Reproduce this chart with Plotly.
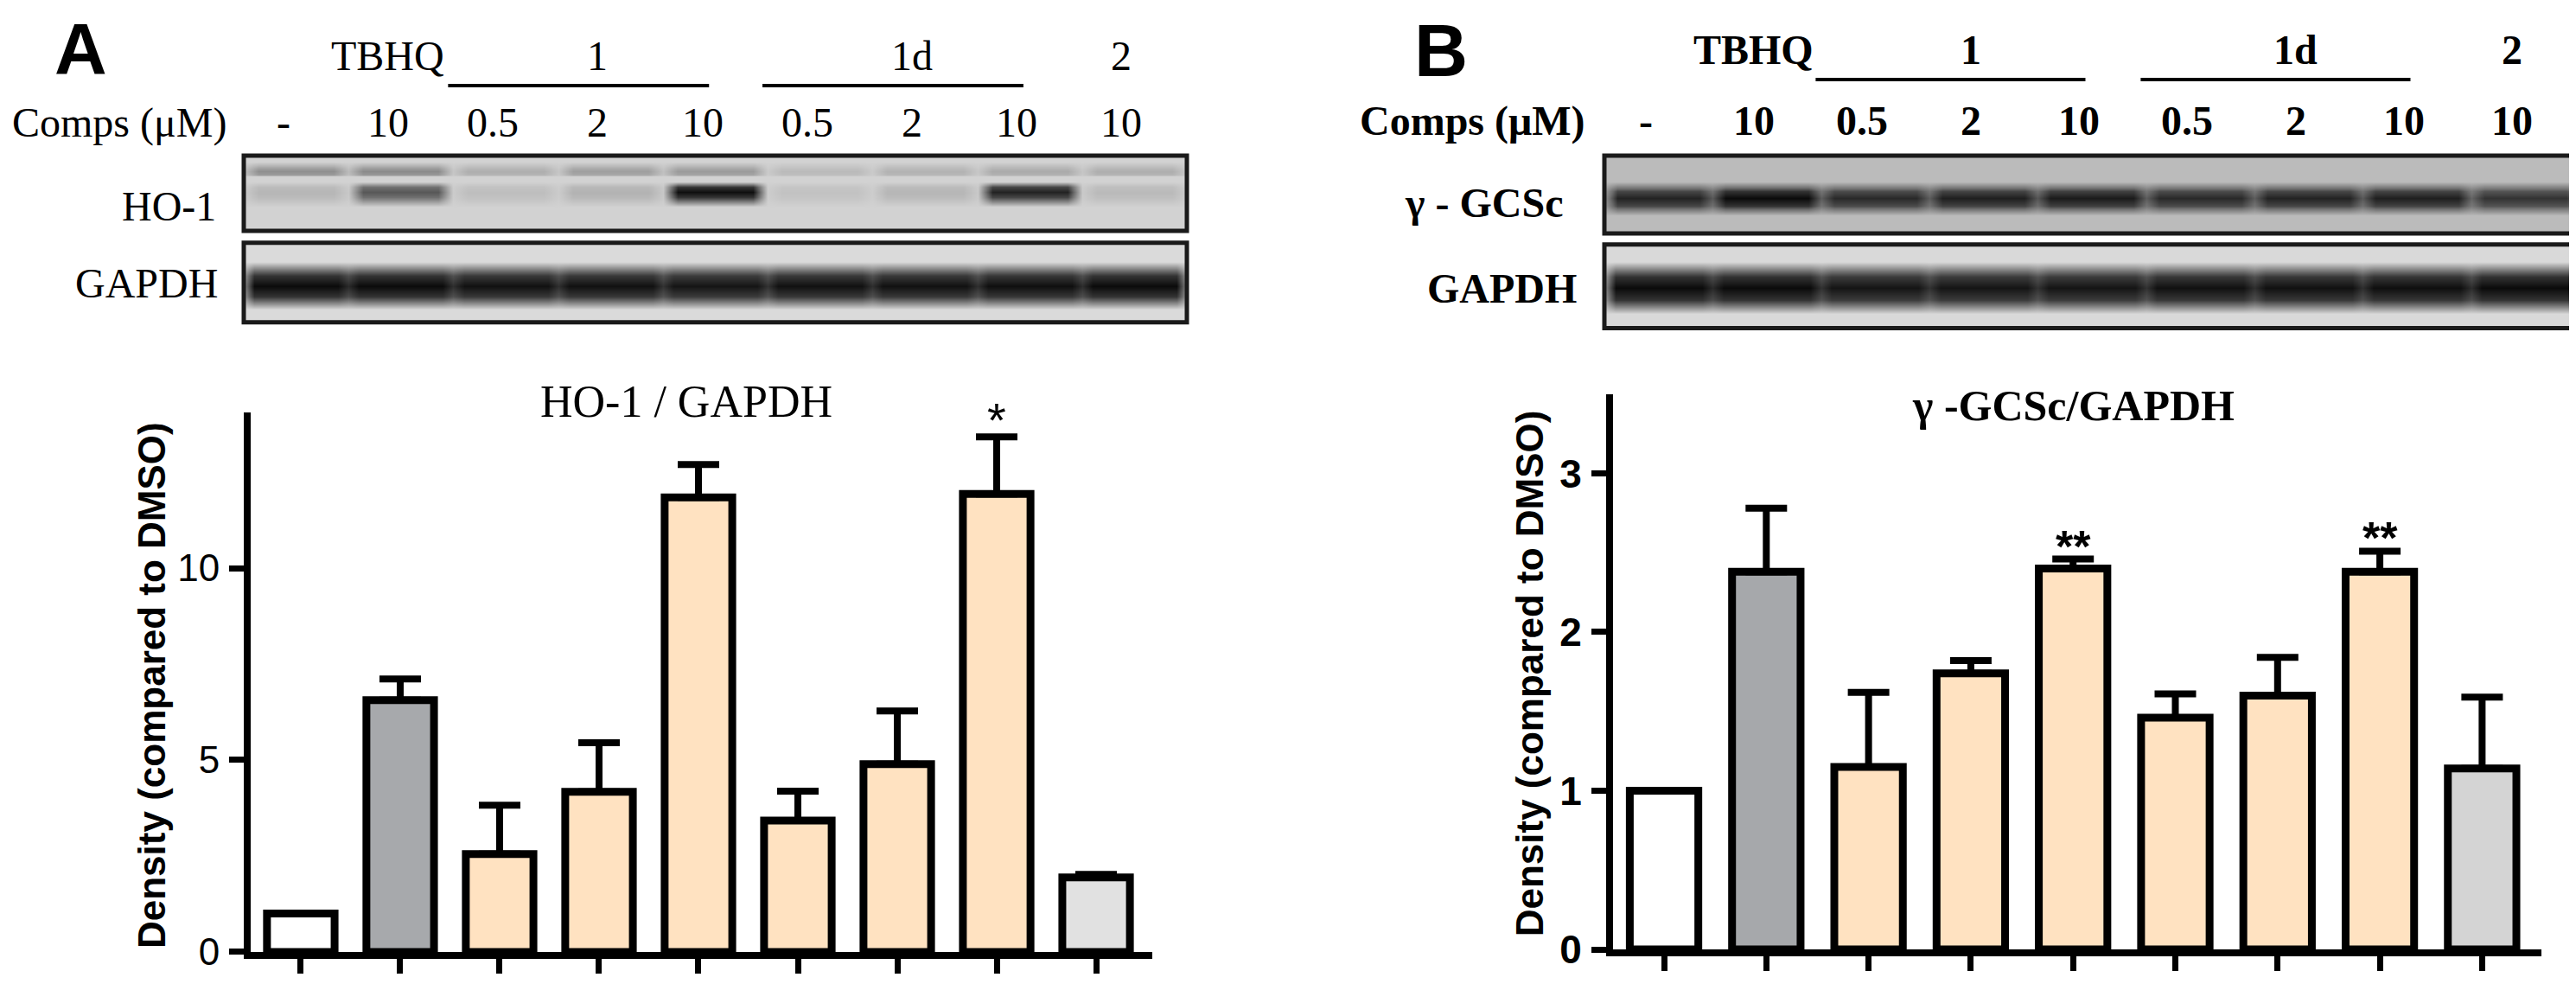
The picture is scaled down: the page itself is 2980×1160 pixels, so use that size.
import plotly.graph_objects as go

W, H = 2980, 1160

# ---------------- data ----------------
lanes = [0, 1, 2, 3, 4, 5, 6, 7, 8]
lane_labels = ["-", "10", "0.5", "2", "10", "0.5", "2", "10", "10"]
group_labels = ["TBHQ", "1", "1d", "2"]
group_lanes = [[1], [2, 3, 4], [5, 6, 7], [8]]
underlined_groups = [1, 2]

ho1_mean = [1.00, 6.56, 2.55, 4.17, 11.84, 3.42, 4.89, 11.93, 1.94]
ho1_sem = [0.00, 0.55, 1.27, 1.28, 0.86, 0.77, 1.39, 1.49, 0.08]
ho1_sig = ["", "", "", "", "", "", "", "*", ""]

gcs_mean = [1.00, 2.38, 1.15, 1.74, 2.40, 1.46, 1.60, 2.38, 1.14]
gcs_sem = [0.00, 0.40, 0.47, 0.08, 0.06, 0.15, 0.24, 0.13, 0.45]
gcs_sig = ["", "", "", "", "**", "", "", "**", ""]

ticks_a = [0, 5, 10]
ticks_b = [0, 1, 2, 3]

bar_colors_a = ["#FFFFFF", "#A7A9AC", "#FFE2C1", "#FFE2C1", "#FFE2C1",
                "#FFE2C1", "#FFE2C1", "#FFE2C1", "#E1E1E1"]
bar_colors_b = ["#FFFFFF", "#A6A8AB", "#FFE2C1", "#FFE2C1", "#FFE2C1",
                "#FFE2C1", "#FFE2C1", "#FFE2C1", "#D4D4D4"]

# western blot band intensities (0 = background, 1 = black), per lane
ho1_main_band = [0.14, 0.62, 0.10, 0.16, 0.98, 0.08, 0.14, 0.88, 0.12]
ho1_upper_band = [0.34, 0.36, 0.18, 0.26, 0.28, 0.12, 0.16, 0.20, 0.18]
gapdh_a_band = [1.00, 1.00, 0.97, 0.97, 0.95, 0.97, 0.97, 0.98, 1.00]
gcs_band = [0.88, 1.00, 0.85, 0.90, 0.92, 0.85, 0.88, 0.90, 0.80]
gapdh_b_band = [1.00, 1.00, 0.95, 0.95, 0.95, 0.97, 0.97, 0.98, 1.00]

# ---------------- helpers ----------------
def fx(px):
    return px / W


def fy(py):
    return 1 - py / H


SERIF = "Liberation Serif"
SANS = "Liberation Sans"


def blot_heatmap(bands, xa, ya, bg, dark="#0B0B0B", core=0.34, gap=0.5):
    """bands: list of (intensities, centre, half_height, softness)"""
    xs = [-0.55]
    kinds = [("edge", None)]
    for i in range(9):
        xs += [i - core, i + core]
        kinds += [("lane", i), ("lane", i)]
        if i < 8:
            xs.append(i + 0.5)
            kinds.append(("gap", i))
    xs.append(8.55)
    kinds.append(("edge", None))

    ys = [0.0, 1.0]
    for (inten, c, h, s) in bands:
        ys += [c - h - s, c - h, c, c + h, c + h + s]
    ys = sorted(set(round(v, 4) for v in ys))
    z = []
    for yy in ys:
        row = []
        for (k, i) in kinds:
            val = 0.0
            for (inten, c, h, s) in bands:
                d = abs(yy - c)
                if d < 1e-6:
                    v = 1.0
                elif d <= h + 1e-6:
                    v = 0.8
                else:
                    v = 0.0
                if k == "lane":
                    li = inten[i]
                elif k == "gap":
                    li = gap * min(inten[i], inten[i + 1])
                else:
                    li = 0.0
                val = max(val, v * li)
            row.append(val)
        z.append(row)
    return go.Heatmap(
        x=xs, y=ys, z=z, zmin=0, zmax=1, zsmooth="best", showscale=False,
        colorscale=[[0, bg], [0.5, "#707070"], [1, dark]],
        xaxis=xa, yaxis=ya, hoverinfo="skip",
    )


fig = go.Figure()

# ---------------- blots ----------------
fig.add_trace(blot_heatmap(
    [(ho1_upper_band, 0.79, 0.04, 0.09), (ho1_main_band, 0.52, 0.07, 0.13)],
    "x3", "y3", "#D2D2D2", core=0.36, gap=0.35))
fig.add_trace(blot_heatmap([(gapdh_a_band, 0.46, 0.13, 0.17)], "x4", "y4", "#DADADA",
                           core=0.4, gap=0.85))
fig.add_trace(blot_heatmap([(gcs_band, 0.45, 0.09, 0.13)], "x5", "y5", "#BBBBBB",
                           core=0.38, gap=0.7))
fig.add_trace(blot_heatmap([(gapdh_b_band, 0.48, 0.14, 0.17)], "x6", "y6", "#D9D9D9",
                           core=0.4, gap=0.85))

# ---------------- bar charts ----------------
fig.add_trace(go.Bar(
    x=lanes, y=ho1_mean, width=0.68,
    marker=dict(color=bar_colors_a, line=dict(color="black", width=9)),
    error_y=dict(type="data", array=ho1_sem, arrayminus=[0] * len(ho1_sem),
                 symmetric=False, color="black", thickness=8, width=24),
    xaxis="x", yaxis="y", showlegend=False,
))
fig.add_trace(go.Bar(
    x=lanes, y=gcs_mean, width=0.67,
    marker=dict(color=bar_colors_b, line=dict(color="black", width=9)),
    error_y=dict(type="data", array=gcs_sem, arrayminus=[0] * len(gcs_sem),
                 symmetric=False, color="black", thickness=8, width=24),
    xaxis="x2", yaxis="y2", showlegend=False,
))

ann = []
shapes = []


def text(x, y, t, font, xref="paper", yref="paper", xanchor="center", yanchor="middle", **kw):
    d = dict(x=x, y=y, xref=xref, yref=yref, text=t, showarrow=False,
             xanchor=xanchor, yanchor=yanchor, font=font)
    d.update(kw)
    ann.append(d)


# significance marks
for i, s in enumerate(ho1_sig):
    if s:
        text(lanes[i], ho1_mean[i] + ho1_sem[i], s,
             dict(family=SANS, size=56, color="black"), xref="x", yref="y", yshift=20)
for i, s in enumerate(gcs_sig):
    if s:
        text(lanes[i], gcs_mean[i] + gcs_sem[i], s,
             dict(family=SANS, size=52, color="black", weight="bold"),
             xref="x2", yref="y2", yshift=15)

# panel letters
text(fx(85), 1.0, "<b>A</b>", dict(family=SANS, size=84, color="black"), yanchor="top")
text(fx(1659), 1.0, "<b>B</b>", dict(family=SANS, size=86, color="black"), yanchor="top")


def header(xref, bold, y_group, y_line, y_lane, comps_x):
    wt = "bold" if bold else "normal"
    f = dict(family=SERIF, size=48, color="black", weight=wt)
    for g, ls in zip(group_labels, group_lanes):
        text(sum(ls) / len(ls), fy(y_group), g, f, xref=xref, xshift=-15)
    for gi in underlined_groups:
        ls = group_lanes[gi]
        shapes.append(dict(type="line", xref=xref, yref="paper",
                           x0=ls[0] - 0.55, x1=ls[-1] - 0.06, y0=fy(y_line), y1=fy(y_line),
                           line=dict(color="black", width=4)))
    text(fx(comps_x), fy(y_lane), "Comps (μM)", f, xanchor="left")
    for i, t in enumerate(lane_labels):
        text(lanes[i], fy(y_lane), t, f, xref=xref, xshift=-15)


header("x3", False, 58, 93, 137, 4)
header("x5", True, 51, 86, 135, 1563)

ser_n = dict(family=SERIF, size=48, color="black")
ser_b = dict(family=SERIF, size=48, color="black", weight="bold")
text(fx(244), fy(236), "HO-1", ser_n, xanchor="right")
text(fx(246), fy(327), "GAPDH", ser_n, xanchor="right")
text(fx(1802), fy(232), "γ - GCSc", ser_b, xanchor="right")
text(fx(1818), fy(333), "GAPDH", ser_b, xanchor="right")
text(fx(786), fy(467), "HO-1 / GAPDH", dict(family=SERIF, size=52, color="black"))
text(fx(2390), fy(472), "γ -GCSc/GAPDH", dict(family=SERIF, size=50, color="black", weight="bold"))
text(fx(167), fy(803), "Density (compared to DMSO)",
     dict(family=SANS, size=44, color="black", weight="bold"), textangle=-90)
text(fx(1761), fy(789), "Density (compared to DMSO)",
     dict(family=SANS, size=44, color="black", weight="bold"), textangle=-90)

# blot borders
for k in ["3", "4", "5", "6"]:
    shapes.append(dict(type="rect", xref=f"x{k} domain", yref=f"y{k} domain",
                       x0=0, x1=1, y0=0, y1=1, layer="above",
                       line=dict(color="#1A1A1A", width=5)))

xa_common = dict(showgrid=False, zeroline=False, showline=True, linecolor="black",
                 linewidth=8, ticks="outside", ticklen=17, tickwidth=7, tickcolor="black",
                 showticklabels=False, tickvals=lanes, fixedrange=True)
ya_common = dict(showgrid=False, zeroline=False, showline=True, linecolor="black",
                 linewidth=8, ticks="outside", ticklen=17, tickwidth=7, tickcolor="black",
                 fixedrange=True, ticklabelstandoff=2)
blot_x = dict(range=[-0.5, 8.5], showgrid=False, zeroline=False, showticklabels=False,
              showline=False, ticks="", fixedrange=True)
blot_y = dict(range=[0, 1], showgrid=False, zeroline=False, showticklabels=False,
              showline=False, ticks="", fixedrange=True)

fig.update_layout(
    width=W, height=H, autosize=False,
    margin=dict(l=0, r=0, t=0, b=0),
    paper_bgcolor="white", plot_bgcolor="white",
    barmode="overlay", showlegend=False,
    xaxis=dict(domain=[fx(282), fx(1325)], range=[-0.504, 8.565], anchor="y", **xa_common),
    yaxis=dict(domain=[fy(1118), fy(480)], range=[0, 14.05], anchor="x", tickvals=ticks_a,
               tickfont=dict(family=SANS, size=44, color="black"), **ya_common),
    xaxis2=dict(domain=[fx(1858), fx(2932)], range=[-0.499, 8.58], anchor="y2", **xa_common),
    yaxis2=dict(domain=[fy(1115), fy(458)], range=[0, 3.5], anchor="x2", tickvals=ticks_b,
                tickfont=dict(family=SANS, size=46, color="black", weight="bold"), **ya_common),
    xaxis3=dict(domain=[fx(274), fx(1365)], anchor="y3", **blot_x),
    yaxis3=dict(domain=[fy(265), fy(176)], anchor="x3", **blot_y),
    xaxis4=dict(domain=[fx(274), fx(1365)], anchor="y4", **blot_x),
    yaxis4=dict(domain=[fy(373), fy(279)], anchor="x4", **blot_y),
    xaxis5=dict(domain=[fx(1848), fx(2976)], anchor="y5", **blot_x),
    yaxis5=dict(domain=[fy(268), fy(176)], anchor="x5", **blot_y),
    xaxis6=dict(domain=[fx(1848), fx(2976)], anchor="y6", **blot_x),
    yaxis6=dict(domain=[fy(380), fy(281)], anchor="x6", **blot_y),
    annotations=ann,
    shapes=shapes,
)

fig.write_html("out.html", config={"displayModeBar": False})
